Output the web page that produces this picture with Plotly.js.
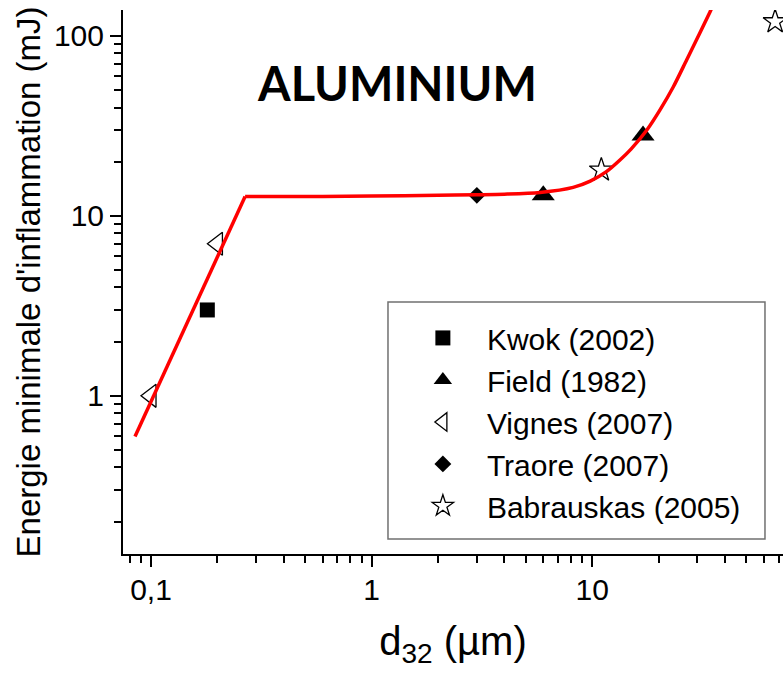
<!DOCTYPE html>
<html>
<head>
<meta charset="utf-8">
<script src="https://cdn.plot.ly/plotly-3.0.1.min.js"></script>
<style>html,body{margin:0;padding:0;background:#fff;}#chart{width:783px;height:677px;}</style>
</head>
<body>
<div id="chart"></div>
<script>
// ---- data ----
var kwokX = [0.18];            var kwokY = [3];
var fieldX = [6, 17];          var fieldY = [13, 28];
var vignesX = [0.1, 0.2];      var vignesY = [1, 7];
var traoreX = [3];             var traoreY = [13];
var babX = [11, 67.5];         var babY = [18, 120];

// fitted red curve
var fitLeftX = [0.0846, 0.267];
var fitLeftY = [0.594, 12.8];
var fitRightX = [0.267, 0.6, 1, 2, 3, 4, 5.8, 8.2, 9.8, 11.6, 13.4, 15, 17.7, 20.3, 23.3, 26.8, 30.8, 34.2, 35.5];
var fitRightY = [12.8, 12.8, 12.9, 13.0, 13.1, 13.2, 13.5, 14.4, 15.6, 17.6, 20.5, 23.5, 30, 38.8, 52, 73.5, 104, 136, 150];

var xTickVals = [0.1, 1, 10];
var xTickText = ['0,1', '1', '10'];
var yTickVals = [1, 10, 100];
var yTickText = ['1', '10', '100'];
var xMinorVals = [0.08, 0.09, 0.2, 0.3, 0.4, 0.5, 0.6, 0.7, 0.8, 0.9, 2, 3, 4, 5, 6, 7, 8, 9, 20, 30, 40, 50, 60, 70];
var yMinorVals = [0.2, 0.3, 0.4, 0.5, 0.6, 0.7, 0.8, 0.9, 2, 3, 4, 5, 6, 7, 8, 9, 20, 30, 40, 50, 60, 70, 80, 90];

var seriesNames = ['Kwok (2002)', 'Field (1982)', 'Vignes (2007)', 'Traore (2007)', 'Babrauskas (2005)'];

var FONT = 'Liberation Sans, Arial, sans-serif';

var traces = [
  {x: kwokX, y: kwokY, name: seriesNames[0], mode: 'markers', type: 'scatter',
   marker: {symbol: 'square', size: 15, color: 'black'}},
  {x: fieldX, y: fieldY, name: seriesNames[1], mode: 'markers', type: 'scatter',
   marker: {symbol: 'triangle-up', size: 20, color: 'black'}},
  {x: vignesX, y: vignesY, name: seriesNames[2], mode: 'markers', type: 'scatter',
   marker: {symbol: 'triangle-left-open', size: 20, color: 'black', line: {width: 1.3}}},
  {x: traoreX, y: traoreY, name: seriesNames[3], mode: 'markers', type: 'scatter',
   marker: {symbol: 'diamond', size: 13, color: 'black'}},
  {x: babX, y: babY, name: seriesNames[4], mode: 'markers', type: 'scatter',
   marker: {symbol: 'star-open', size: 18, color: 'black', line: {width: 1.3}}},
  {x: fitLeftX, y: fitLeftY, mode: 'lines', type: 'scatter', showlegend: false,
   line: {color: '#ff0000', width: 3.5}},
  {x: fitRightX, y: fitRightY, mode: 'lines', type: 'scatter', showlegend: false,
   line: {color: '#ff0000', width: 3.5, shape: 'spline', smoothing: 0.8}}
];

var axisCommon = {
  type: 'log', showline: true, linecolor: 'black', linewidth: 2, mirror: false,
  ticks: 'outside', ticklen: 11, tickwidth: 2, tickcolor: 'black',
  showgrid: false, zeroline: false, tickmode: 'array',
  tickfont: {family: FONT, size: 30, color: 'black'}
};

var layout = {
  width: 783, height: 677,
  margin: {l: 123, r: 0, t: 10, b: 123},
  paper_bgcolor: 'white', plot_bgcolor: 'white',
  showlegend: true,
  xaxis: Object.assign({}, axisCommon, {
    range: [-1.127, 1.865],
    tickvals: xTickVals, ticktext: xTickText, ticklabelstandoff: -3,
    minor: {ticks: 'outside', ticklen: 7, tickwidth: 2, tickcolor: 'black', tickmode: 'array', tickvals: xMinorVals, showgrid: false},
    title: {text: 'd<sub>32</sub> (µm)', font: {family: FONT, size: 40, color: 'black'}, standoff: 22}
  }),
  yaxis: Object.assign({}, axisCommon, {
    range: [-0.879, 2.144],
    tickvals: yTickVals, ticktext: yTickText,
    minor: {ticks: 'outside', ticklen: 7, tickwidth: 2, tickcolor: 'black', tickmode: 'array', tickvals: yMinorVals, showgrid: false},
    title: {text: "Energie minimale d'inflammation (mJ)", font: {family: FONT, size: 33, color: 'black'}, standoff: 3}
  }),
  legend: {
    x: 0.418, y: 0.445, xanchor: 'left', yanchor: 'top',
    bgcolor: 'rgba(0,0,0,0)', borderwidth: 0,
    itemwidth: 78,
    font: {family: FONT, size: 30, color: 'black'},
    traceorder: 'normal'
  },
  shapes: [{
    type: 'rect', xref: 'paper', yref: 'paper',
    x0: 0.4015, x1: 0.9727, y0: 0.0276, y1: 0.4632,
    line: {color: '#707070', width: 1.5}, fillcolor: 'rgba(0,0,0,0)', layer: 'below'
  }],
  annotations: [{
    text: 'ALUMINIUM', xref: 'paper', yref: 'paper',
    x: 0.4158, y: 0.865, xanchor: 'center', yanchor: 'middle', showarrow: false,
    font: {family: 'Lato, Open Sans, sans-serif', size: 47, weight: 700, color: 'black'}
  }]
};

Plotly.newPlot('chart', traces, layout, {displayModeBar: false, staticPlot: true});
</script>
</body>
</html>
